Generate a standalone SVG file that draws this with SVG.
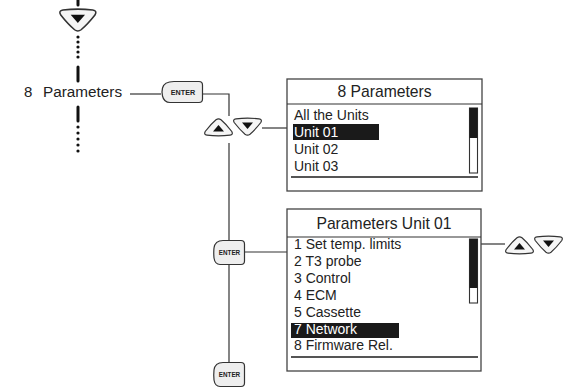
<svg xmlns="http://www.w3.org/2000/svg" xmlns:xlink="http://www.w3.org/1999/xlink" width="566" height="390" viewBox="0 0 566 390">
<style>
.ln{stroke:#333;stroke-width:1.2;fill:none}
.thick{stroke:#111;stroke-width:3;stroke-linecap:round;fill:none}
.dot{fill:#111}
.btn{fill:#f5f5f5;stroke:#333;stroke-width:1.2}
.tri{fill:#111}
.ent{fill:#eeeeee;stroke:#333;stroke-width:1.2}
.entt{font-family:"Liberation Sans",Arial,sans-serif;font-weight:bold;fill:#222;text-anchor:middle}
.box{fill:#fff;stroke:#444;stroke-width:1.3}
.sep{stroke:#555;stroke-width:1.8}
.t{font-family:"Liberation Sans",Arial,sans-serif;font-size:14px;fill:#222}
.title{font-family:"Liberation Sans",Arial,sans-serif;font-size:15.7px;fill:#222;text-anchor:middle}
.hl{fill:#1a1a1a}
.w{fill:#fff}
.sb{fill:#fff;stroke:#333;stroke-width:1.1}
</style>
<defs>
<g id="btnDown">
<path class="btn" d="M3,0.8 Q14.5,-0.6 26,0.8 Q29.5,1.3 27.8,4.5 Q22,12 17,16.2 Q14.5,18.2 12,16.2 Q7,12 1.2,4.5 Q-0.5,1.3 3,0.8 Z"/>
<path class="tri" d="M9,4.5 L20,4.5 L14.5,11 Z"/>
</g>
<g id="btnUp">
<path class="btn" d="M3,17.2 Q14.5,18.6 26,17.2 Q29.5,16.7 27.8,13.5 Q22,6 17,1.8 Q14.5,-0.2 12,1.8 Q7,6 1.2,13.5 Q-0.5,16.7 3,17.2 Z"/>
<path class="tri" d="M9,13.5 L20,13.5 L14.5,7 Z"/>
</g>
<g id="enterSmall">
<path class="ent" d="M10,0.5 H28 Q31.5,0.5 31.5,4 V21 Q31.5,24.5 28,24.5 H7 Q2,24.5 1,18 Q0.5,12.5 1,8 Q2,0.5 10,0.5 Z"/>
<text class="entt" x="16.5" y="15" font-size="6.3">ENTER</text>
</g>
</defs>

<g id="connectors">
<line class="thick" x1="78" y1="0" x2="78" y2="5"/>
<circle class="dot" cx="78" cy="37" r="1.6"/>
<circle class="dot" cx="78" cy="42" r="1.6"/>
<circle class="dot" cx="78" cy="47" r="1.6"/>
<circle class="dot" cx="78" cy="52" r="1.6"/>
<circle class="dot" cx="78" cy="57" r="1.6"/>
<line class="thick" x1="78" y1="67" x2="78" y2="81"/>
<line class="thick" x1="78" y1="107" x2="78" y2="121"/>
<circle class="dot" cx="78" cy="127" r="1.6"/>
<circle class="dot" cx="78" cy="133" r="1.6"/>
<circle class="dot" cx="78" cy="139" r="1.6"/>
<circle class="dot" cx="78" cy="145" r="1.6"/>
<circle class="dot" cx="78" cy="151" r="1.6"/>
<line class="ln" x1="130" y1="94" x2="161" y2="94"/>
<polyline class="ln" points="203,94 229,94 229,116"/>
<line class="ln" x1="262" y1="128" x2="287" y2="128"/>
<line class="ln" x1="229" y1="143" x2="229" y2="240"/>
<line class="ln" x1="245" y1="252" x2="287" y2="252"/>
<line class="ln" x1="229" y1="265" x2="229" y2="362"/>
<line class="ln" x1="481" y1="244" x2="505" y2="244"/>
</g>

<g id="nav-top">
<use xlink:href="#btnDown" transform="translate(59,9) scale(1.3,1.28)"/>
</g>

<g id="menu-item">
<text class="t" x="24" y="97" style="font-size:15px">8</text>
<text class="t" x="43" y="97" style="font-size:15.3px">Parameters</text>
</g>

<g id="enter1">
<path class="ent" d="M174,81.5 H199 Q202.5,81.5 202.5,85 V99 Q202.5,102.5 199,102.5 H170 Q164,102.5 162.5,96 Q161.5,92 162.5,88 Q164,81.5 174,81.5 Z"/>
<text class="entt" x="183" y="95" font-size="7.2">ENTER</text>
</g>

<g id="nav1">
<use xlink:href="#btnUp" x="204" y="118"/>
<use xlink:href="#btnDown" x="233" y="118"/>
</g>

<g id="screen1">
<rect class="box" x="287" y="79" width="195" height="112"/>
<line class="ln" x1="287" y1="104" x2="482" y2="104"/>
<text class="title" x="384.5" y="97">8 Parameters</text>
<text class="t" x="294" y="120">All the Units</text>
<rect class="hl" x="293" y="124" width="86" height="16"/>
<text class="t w" x="294" y="137">Unit 01</text>
<text class="t" x="294" y="154">Unit 02</text>
<text class="t" x="294" y="171">Unit 03</text>
<rect class="sb" x="469.5" y="108" width="8" height="65"/>
<rect class="hl" x="469.5" y="108" width="8" height="30"/>
<line class="sep" x1="291" y1="177" x2="478" y2="177"/>
</g>

<g id="enter2">
<use xlink:href="#enterSmall" x="213" y="240"/>
</g>

<g id="screen2">
<rect class="box" x="287" y="209" width="194" height="162"/>
<line class="ln" x1="287" y1="237" x2="481" y2="237"/>
<text class="title" x="384" y="229">Parameters Unit 01</text>
<text class="t" x="294" y="249">1 Set temp. limits</text>
<text class="t" x="294" y="266">2 T3 probe</text>
<text class="t" x="294" y="283">3 Control</text>
<text class="t" x="294" y="300">4 ECM</text>
<text class="t" x="294" y="317">5 Cassette</text>
<rect class="hl" x="291" y="323" width="108" height="15"/>
<text class="t w" x="294" y="334">7 Network</text>
<text class="t" x="294" y="350">8 Firmware Rel.</text>
<rect class="sb" x="469.5" y="239" width="8" height="64"/>
<rect class="hl" x="469.5" y="239" width="8" height="49"/>
<line class="sep" x1="291" y1="357" x2="478" y2="357"/>
</g>

<g id="nav2">
<use xlink:href="#btnUp" x="505" y="236"/>
<use xlink:href="#btnDown" x="534" y="236"/>
</g>

<g id="enter3">
<use xlink:href="#enterSmall" x="213" y="362"/>
</g>
</svg>
